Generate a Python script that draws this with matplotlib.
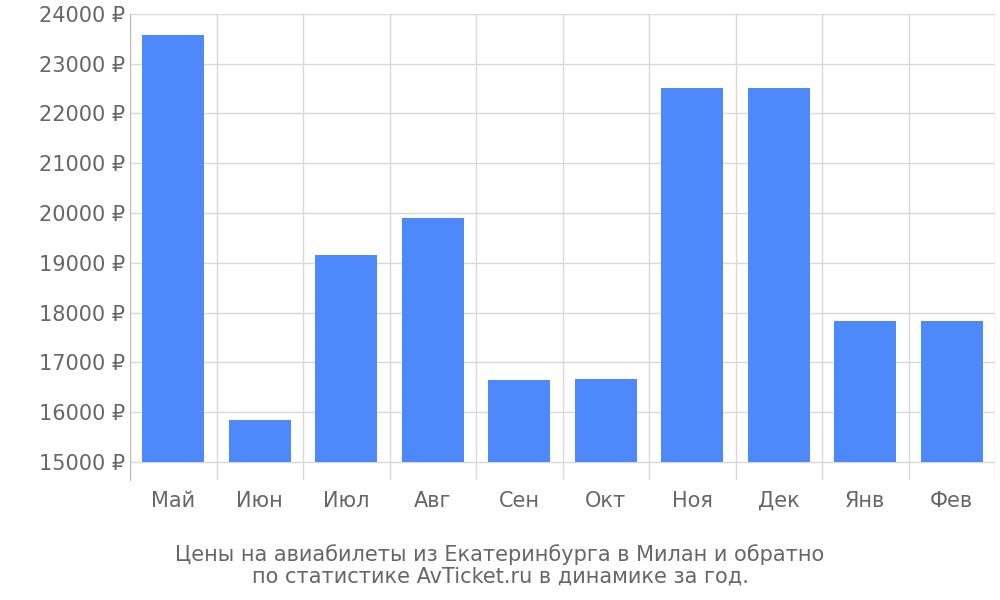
import matplotlib
matplotlib.use("Agg")
import matplotlib.pyplot as plt
import numpy as np

categories = ["Май", "Июн", "Июл", "Авг", "Сен", "Окт", "Ноя", "Дек", "Янв", "Фев"]
prices = [23570, 15840, 19160, 19900, 16650, 16670, 22520, 22520, 17840, 17840]
yticks = list(range(15000, 24001, 1000))

fig = plt.figure(figsize=(10, 6), dpi=100)
ax = fig.add_axes([0.13, 0.2, 0.865, 0.777])
x = np.arange(len(categories))
base = 15000
ax.bar(x, [p - base for p in prices], bottom=base, width=0.72, color="#4d89fb", zorder=3)
ax.set_xlim(-0.5, len(categories) - 0.5)
ax.set_ylim(14640, 24000)
ax.set_yticks(yticks)
ax.set_yticklabels([f"{v} ₽" for v in yticks])
ax.set_xticks(x)
ax.set_xticklabels(categories)
for b in np.arange(-0.5, len(categories), 1.0):
    ax.axvline(b, color="#d8d8d8", lw=1, zorder=1)
for v in yticks:
    ax.axhline(v, color="#d8d8d8", lw=1, zorder=1)
for s in ["top", "right", "bottom"]:
    ax.spines[s].set_visible(False)
ax.spines["left"].set_color("#bbbbbb")
ax.tick_params(axis="both", length=0, labelsize=15, labelcolor="#666666")
ax.tick_params(axis="x", pad=8)
fig.text(0.5, 0.022, "Цены на авиабилеты из Екатеринбурга в Милан и обратно\nпо статистике AvTicket.ru в динамике за год.",
         ha="center", va="bottom", fontsize=15, color="#666666", linespacing=1.1)
fig.savefig("out.png")
